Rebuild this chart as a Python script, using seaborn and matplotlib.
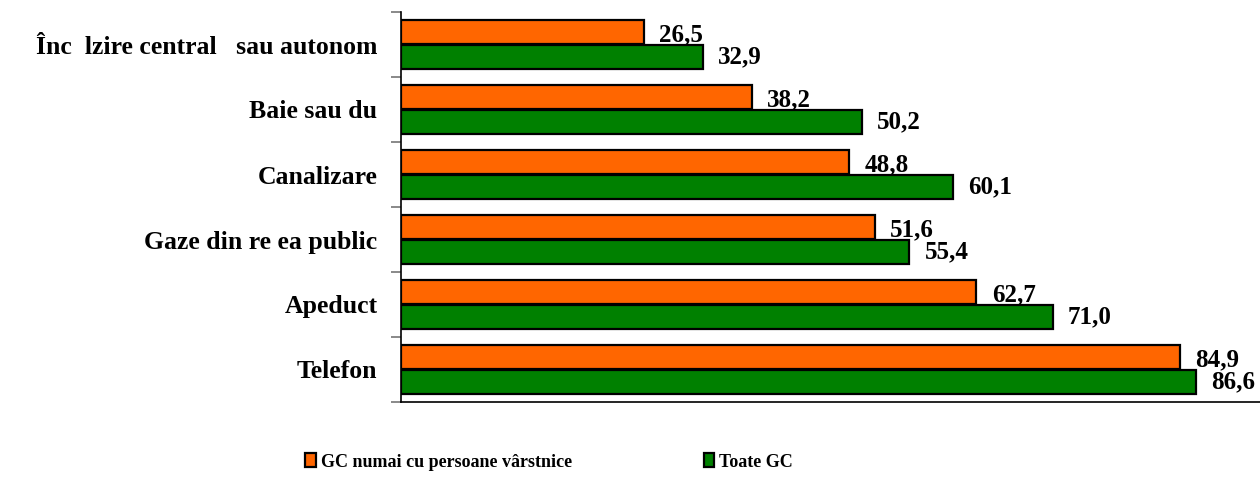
import matplotlib.pyplot as plt
import seaborn as sns
import pandas as pd

sns.set_style("white")
plt.rcParams['font.family'] = ['Liberation Serif', 'DejaVu Serif']
plt.rcParams['font.weight'] = 'bold'
plt.rcParams['text.color'] = 'black'
plt.rcParams['ytick.color'] = 'black'
plt.rcParams['ytick.labelcolor'] = 'black'

# DATA HERE
categories = ["Înc  lzire central   sau autonom", "Baie sau du", "Canalizare",
              "Gaze din re ea public", "Apeduct", "Telefon"]
series_names = ["GC numai cu persoane vârstnice", "Toate GC"]
values_old = [26.5, 38.2, 48.8, 51.6, 62.7, 84.9]
values_all = [32.9, 50.2, 60.1, 55.4, 71.0, 86.6]

df = pd.DataFrame({
    "cat": categories * 2,
    "serie": [series_names[0]] * 6 + [series_names[1]] * 6,
    "val": values_old + values_all,
})

fig = plt.figure(figsize=(12.6, 4.79), dpi=100)
ax = fig.add_axes([401 / 1260, 1 - 402 / 479, 1 - 401 / 1260, 390 / 479])

sns.barplot(data=df, y="cat", x="val", hue="serie", orient="h",
            palette=["#FF6600", "#008000"], saturation=1, width=0.75, gap=0.03,
            edgecolor="black", linewidth=1.6, ax=ax, legend=True)

ax.set_xlim(0, 93.6)
ax.set_ylim(5.5, -0.5)
ax.set_xlabel("")
ax.set_ylabel("")
ax.set_xticks([])

# category labels without ticks, gray ticks at the band edges
ax.set_yticks(range(len(categories)))
ax.set_yticklabels(categories, fontsize=18.5, fontweight='bold', color='black')
ax.tick_params(axis='y', which='major', left=False, length=0, pad=17)
ax.set_yticks([i - 0.5 for i in range(len(categories) + 1)], minor=True)
ax.tick_params(axis='y', which='minor', left=True, length=7, width=1.3, color='#808080', direction='out')

for side in ["top", "right"]:
    ax.spines[side].set_visible(False)
for side in ["left", "bottom"]:
    ax.spines[side].set_color("black")
    ax.spines[side].set_linewidth(1.2)

# value labels
for k, cont in enumerate(ax.containers):
    labels = [f"{v:.1f}".replace(".", ",") for v in cont.datavalues]
    dy = -2 if k == 0 else 0
    for bar, lab in zip(cont, labels):
        ax.annotate(lab, (bar.get_width(), bar.get_y() + bar.get_height() / 2),
                    xytext=(11, dy), textcoords="offset points",
                    ha="left", va="center", fontsize=18, fontweight='bold', color='black')

ax.get_legend().remove()
handles, labs = ax.get_legend_handles_labels()
fig.legend(handles, labs, loc="center left", bbox_to_anchor=(289 / 1260, 1 - 462 / 479),
           ncol=2, frameon=False, handlelength=0.6, handleheight=0.8,
           handletextpad=0.25, columnspacing=7.3,
           prop={'weight': 'bold', 'size': 13})

fig.savefig("out.png", dpi=100)
